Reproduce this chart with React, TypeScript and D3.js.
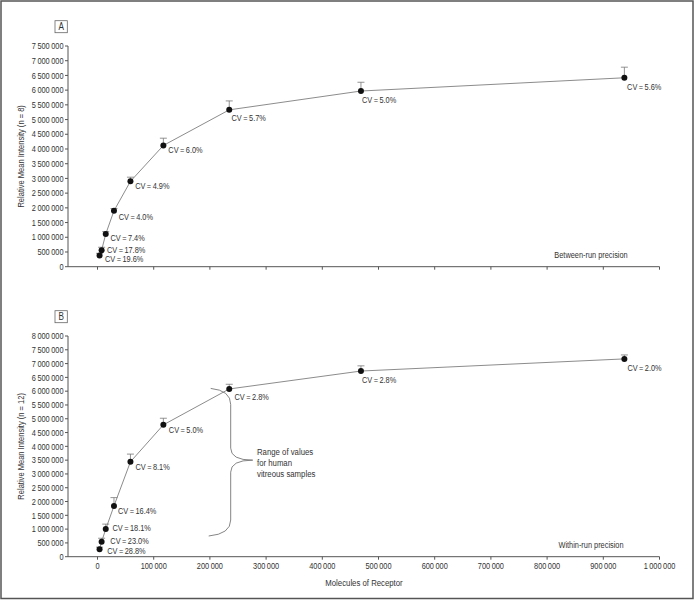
import React from "react";
import * as d3 from "d3";

// ---- data ----
const molecules = [3660, 7320, 14650, 29300, 58600, 117200, 234400, 468800, 937500];

const meanA = [380000, 560000, 1110000, 1900000, 2900000, 4120000, 5330000, 5970000, 6420000];
const errA = [75000, 100000, 82000, 76000, 142000, 247000, 304000, 298000, 360000];
const cvA = ["19.6", "17.8", "7.4", "4.0", "4.9", "6.0", "5.7", "5.0", "5.6"];

const meanB = [268000, 544000, 1000000, 1840000, 3440000, 4780000, 6080000, 6730000, 7170000];
const errB = [77000, 125000, 181000, 302000, 279000, 239000, 170000, 188000, 143000];
const cvB = ["28.8", "23.0", "18.1", "16.4", "8.1", "5.0", "2.8", "2.8", "2.0"];

const xTicks = [0, 100000, 200000, 300000, 400000, 500000, 600000, 700000, 800000, 900000, 1000000];
const yTicksA = [0, 500000, 1000000, 1500000, 2000000, 2500000, 3000000, 3500000, 4000000, 4500000, 5000000, 5500000, 6000000, 6500000, 7000000, 7500000];
const yTicksB = [0, 500000, 1000000, 1500000, 2000000, 2500000, 3000000, 3500000, 4000000, 4500000, 5000000, 5500000, 6000000, 6500000, 7000000, 7500000, 8000000];

const braceRange = [750000, 6100000];
const braceTip = 3500000;
const braceMolecules = 237000;
const braceText = ["Range of values", "for human", "vitreous samples"];

// ---- layout / styles ----
const W = 694;
const H = 600;
const FONT = '"Liberation Sans", Arial, sans-serif';
const SX = 0.82; // narrow typeface look
const TEXT = "#333";
const AXIS = "#555";
const LINE = "#8c8c8c";

const offA: [number, number][] = [[5.4, 3.6], [5.3, 0], [4.7, 4], [4.7, 5.7], [4.7, 4.3], [5, 4.3], [2.3, 8.3], [1, 8.7], [2.7, 8.7]];
const offB: [number, number][] = [[7.7, 1.4], [8.7, -1], [6.7, -1.7], [4, 5], [5, 5], [5.5, 4.7], [5.3, 7.7], [1, 9], [3, 9]];

const fmt = (v: number) => d3.format(",")(v).replace(/,/g, "\u2009");

const x = d3.scaleLinear().domain([-52500, 1000000]).range([68, 659.5]);

function T(props: { x: number; y: number; size?: number; anchor?: "start" | "middle" | "end"; rotate?: number; children: React.ReactNode }) {
  const { x: tx, y: ty, size = 9, anchor = "start", rotate = 0, children } = props;
  return (
    <text
      transform={`translate(${tx},${ty}) rotate(${rotate}) scale(${SX},1)`}
      textAnchor={anchor}
      fontSize={size}
      fontFamily={FONT}
      fill={TEXT}
    >
      {children}
    </text>
  );
}

type PanelProps = {
  y: d3.ScaleLinear<number, number>;
  yTicks: number[];
  means: number[];
  errs: number[];
  cvs: string[];
  offs: [number, number][];
  letter: string;
  letterTop: number;
  title: string;
  note: string;
  noteY: number;
  xLabels: boolean;
};

function Panel(p: PanelProps) {
  const { y } = p;
  const y0 = y.range()[0];
  const y1 = y.range()[1];
  const line = d3
    .line<number>()
    .x((_, i) => x(molecules[i]))
    .y((d) => y(d));
  return (
    <g>
      {/* panel letter */}
      <rect x={55} y={p.letterTop} width={12.3} height={12} fill="none" stroke="#666" strokeWidth={0.8} />
      <T x={61.2} y={p.letterTop + 9.6} size={10} anchor="middle">
        {p.letter}
      </T>
      {/* y axis */}
      <line x1={68} x2={68} y1={y0} y2={y1} stroke={AXIS} strokeWidth={1} />
      {p.yTicks.map((t) => (
        <g key={t}>
          <line x1={65} x2={68} y1={y(t)} y2={y(t)} stroke={AXIS} strokeWidth={1} />
          <T x={63.5} y={y(t) + 3.2} anchor="end">
            {fmt(t)}
          </T>
        </g>
      ))}
      <T x={24} y={(y0 + y1) / 2} size={9.2} anchor="middle" rotate={-90}>
        {p.title}
      </T>
      {/* x axis */}
      <line x1={68} x2={x(1000000)} y1={y0} y2={y0} stroke={AXIS} strokeWidth={1} />
      {xTicks.map((t) => (
        <g key={t}>
          <line x1={x(t)} x2={x(t)} y1={y0} y2={y0 + 3} stroke={AXIS} strokeWidth={1} />
          {p.xLabels && (
            <T x={x(t)} y={y0 + 12.5} anchor="middle">
              {fmt(t)}
            </T>
          )}
        </g>
      ))}
      {/* connecting line */}
      <path d={line(p.means) || ""} fill="none" stroke={LINE} strokeWidth={1} />
      {/* error bars */}
      {p.means.map((m, i) => (
        <g key={"e" + i}>
          <line x1={x(molecules[i])} x2={x(molecules[i])} y1={y(m)} y2={y(m + p.errs[i])} stroke="#777" strokeWidth={0.8} />
          <line x1={x(molecules[i]) - 3.5} x2={x(molecules[i]) + 3.5} y1={y(m + p.errs[i])} y2={y(m + p.errs[i])} stroke="#777" strokeWidth={0.8} />
        </g>
      ))}
      {/* points */}
      {p.means.map((m, i) => (
        <circle key={"c" + i} cx={x(molecules[i])} cy={y(m)} r={3} fill="#111" />
      ))}
      {/* CV labels */}
      {p.means.map((m, i) => (
        <T key={"t" + i} x={x(molecules[i]) + p.offs[i][0]} y={y(m) + p.offs[i][1] + 3.2}>
          {`CV\u2009=\u2009${p.cvs[i]}%`}
        </T>
      ))}
      <T x={591} y={p.noteY} anchor="middle">
        {p.note}
      </T>
    </g>
  );
}

export default function App() {
  const yA = d3.scaleLinear().domain([0, 7500000]).range([266.7, 46]);
  const yB = d3.scaleLinear().domain([0, 8000000]).range([556.7, 336]);

  const bx = x(braceMolecules);
  const bTop = yB(braceRange[1]);
  const bBot = yB(braceRange[0]);
  const bMid = yB(braceTip);
  const brace = `M ${bx - 20} ${bTop} Q ${bx} ${bTop + 2} ${bx} ${bTop + 16} L ${bx} ${bMid - 12} Q ${bx} ${bMid} ${bx + 22} ${bMid} Q ${bx} ${bMid} ${bx} ${bMid + 12} L ${bx} ${bBot - 16} Q ${bx} ${bBot - 2} ${bx - 22} ${bBot}`;

  return (
    <svg width={W} height={H} style={{ position: "absolute", left: 0, top: 0, background: "#fff" }}>
      <rect x={0} y={0} width={W} height={H} fill="#fff" />
      <rect x={1} y={1} width={692} height={597.5} fill="none" stroke="#555" strokeWidth={1.5} />
      <Panel
        y={yA}
        yTicks={yTicksA}
        means={meanA}
        errs={errA}
        cvs={cvA}
        offs={offA}
        letter="A"
        letterTop={20.7}
        title="Relative Mean Intensity (n = 8)"
        note="Between-run precision"
        noteY={258}
        xLabels={false}
      />
      <Panel
        y={yB}
        yTicks={yTicksB}
        means={meanB}
        errs={errB}
        cvs={cvB}
        offs={offB}
        letter="B"
        letterTop={310.7}
        title="Relative Mean Intensity (n = 12)"
        note="Within-run precision"
        noteY={548}
        xLabels={true}
      />
      <path d={brace} fill="none" stroke="#777" strokeWidth={0.9} />
      {braceText.map((t, i) => (
        <T key={t} x={257} y={bMid - 8.3 + i * 10.8 + 3.2} size={9.5}>
          {t}
        </T>
      ))}
      <T x={364} y={586} size={9.5} anchor="middle">
        Molecules of Receptor
      </T>
    </svg>
  );
}
